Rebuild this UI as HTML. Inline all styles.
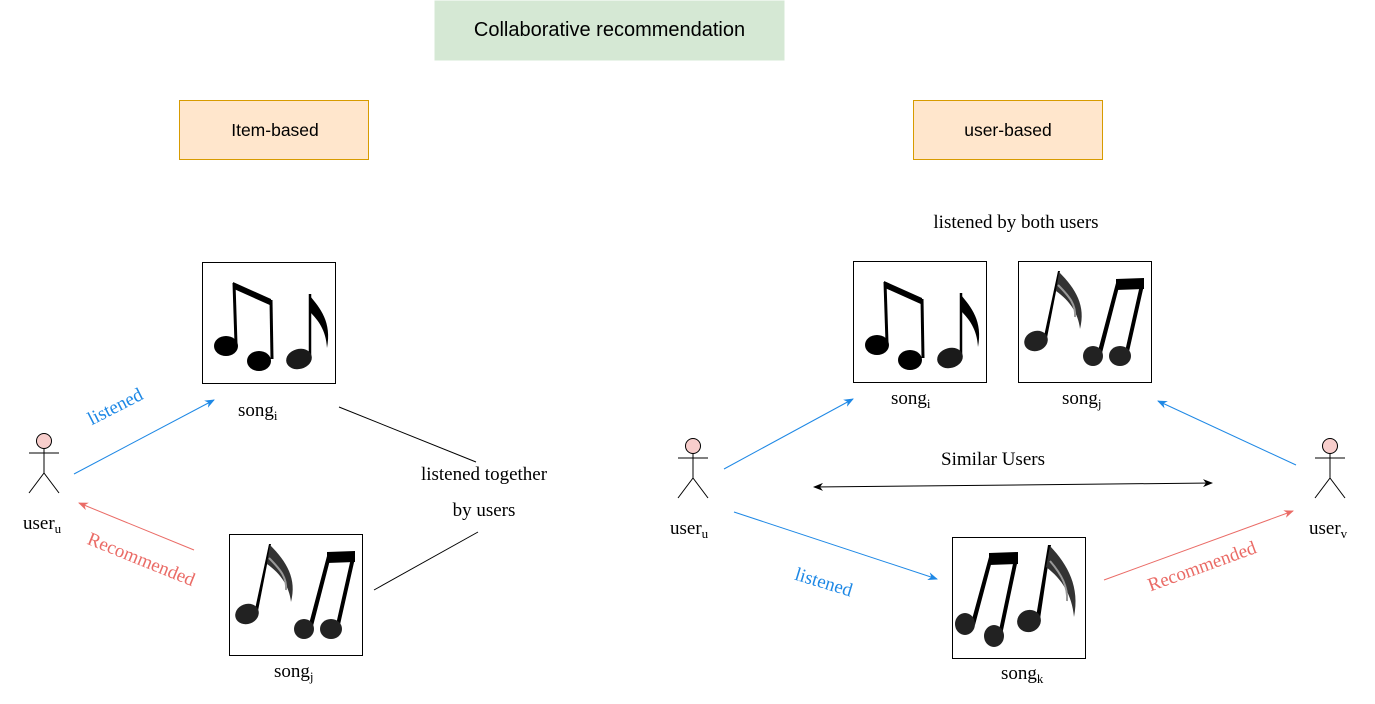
<!DOCTYPE html>
<html><head><meta charset="utf-8"><style>
html,body{margin:0;padding:0;background:#fff;}
svg{display:block;font-family:"Liberation Serif",serif;}
.sans{font-family:"Liberation Sans",sans-serif;}
</style></head><body>
<svg width="1375" height="704" viewBox="0 0 1375 704" xmlns="http://www.w3.org/2000/svg">
<defs>
<marker id="ab" markerWidth="10" markerHeight="8" refX="9" refY="4" orient="auto" markerUnits="userSpaceOnUse"><path d="M0,0 L10,4 L0,8 L3,4z" fill="#1e88e5"/></marker>
<marker id="ar" markerWidth="10" markerHeight="8" refX="9" refY="4" orient="auto" markerUnits="userSpaceOnUse"><path d="M0,0 L10,4 L0,8 L3,4z" fill="#ea6b66"/></marker>
<marker id="ak" markerWidth="10" markerHeight="8" refX="9" refY="4" orient="auto-start-reverse" markerUnits="userSpaceOnUse"><path d="M0,0 L10,4 L0,8 L3,4z" fill="#000"/></marker>
<g id="noteA">
<rect x="0.5" y="0.5" width="133" height="121" fill="#fff" stroke="#000"/>
<path d="M31,20 L69,37 L70,44 L32,27z" fill="#000"/>
<path d="M32,28 L69,45 L69,49 L32,32z" fill="#fff"/>
<line x1="32" y1="21" x2="34" y2="82" stroke="#000" stroke-width="3"/>
<line x1="69" y1="38" x2="70" y2="97" stroke="#000" stroke-width="3"/>
<ellipse cx="24" cy="84" rx="12" ry="10" fill="#000"/>
<ellipse cx="57" cy="99" rx="12" ry="10" fill="#000"/>
<line x1="108" y1="32" x2="108" y2="93" stroke="#000" stroke-width="2.5"/>
<path d="M108,34 C118,46 130,60 125,86 C124,68 116,58 108,50z" fill="#000"/>
<ellipse cx="97" cy="97" rx="13" ry="10" fill="#1a1a1a" transform="rotate(-15 97 97)"/>
</g>
<g id="noteB">
<rect x="0.5" y="0.5" width="133" height="121" fill="#fff" stroke="#000"/>
<path d="M25,80 L40,10 L42,10 L28,82z" fill="#000"/>
<path d="M41,11 C58,28 68,45 62,68 C60,52 52,40 38,30z" fill="#333"/>
<path d="M40,24 C52,36 58,44 57,56" stroke="#999" stroke-width="2" fill="none"/>
<ellipse cx="18" cy="80" rx="12" ry="10" fill="#222" transform="rotate(-20 18 80)"/>
<path d="M80,90 L98,22 L102,22 L84,92z" fill="#000"/>
<path d="M98,18 L126,17 L126,28 L98,29z" fill="#000"/>
<path d="M122,24 L126,24 L110,95 L106,95z" fill="#000"/>
<ellipse cx="75" cy="95" rx="10" ry="10" fill="#222"/>
<ellipse cx="102" cy="95" rx="11" ry="10" fill="#222"/>
</g>
<g id="noteC">
<rect x="0.5" y="0.5" width="133" height="121" fill="#fff" stroke="#000"/>
<path d="M19,86 L37,20 L41,20 L23,88z" fill="#000"/>
<path d="M37,16 L66,15 L66,27 L37,28z" fill="#000"/>
<path d="M62,22 L66,22 L50,98 L46,98z" fill="#000"/>
<ellipse cx="13" cy="87" rx="10" ry="11" fill="#222"/>
<ellipse cx="42" cy="99" rx="10" ry="11" fill="#222"/>
<path d="M84,80 L96,8 L99,8 L88,82z" fill="#000"/>
<path d="M98,9 C116,28 128,50 122,80 C120,58 110,42 94,30z" fill="#333"/>
<path d="M98,24 C110,38 116,50 115,64" stroke="#999" stroke-width="2" fill="none"/>
<ellipse cx="77" cy="84" rx="12" ry="11" fill="#222" transform="rotate(-20 77 84)"/>
</g>
<g id="stick" stroke="#000" stroke-width="1" fill="none">
<circle cx="0" cy="0" r="7.5" fill="#f8cecc"/>
<line x1="0" y1="7.5" x2="0" y2="32"/>
<line x1="-15" y1="12" x2="15" y2="12"/>
<line x1="0" y1="32" x2="-15" y2="52"/>
<line x1="0" y1="32" x2="15" y2="52"/>
</g>
</defs>

<rect x="435" y="1" width="349" height="59" fill="#d5e8d4" stroke="#d5e8d4"/>
<text x="609.5" y="36" text-anchor="middle" font-size="20" class="sans">Collaborative recommendation</text>
<rect x="179.5" y="100.5" width="189" height="59" fill="#ffe6cc" stroke="#d79b00"/>
<text x="275" y="136" text-anchor="middle" font-size="17.5" class="sans">Item-based</text>
<rect x="913.5" y="100.5" width="189" height="59" fill="#ffe6cc" stroke="#d79b00"/>
<text x="1008" y="136" text-anchor="middle" font-size="17.5" class="sans">user-based</text>

<!-- left -->
<use href="#noteA" x="202" y="262"/>
<use href="#noteB" x="229" y="534"/>
<use href="#stick" x="44" y="441"/>
<text x="23" y="529" font-size="19">user<tspan font-size="13" dy="4">u</tspan></text>
<text x="238" y="416" font-size="19">song<tspan font-size="13" dy="4">i</tspan></text>
<text x="274" y="677" font-size="19">song<tspan font-size="13" dy="4">j</tspan></text>
<line x1="74" y1="474" x2="214" y2="400" stroke="#1e88e5" marker-end="url(#ab)"/>
<text x="118" y="412" font-size="19" fill="#1e88e5" text-anchor="middle" transform="rotate(-27 118 412)">listened</text>
<line x1="194" y1="550" x2="79" y2="503" stroke="#ea6b66" marker-end="url(#ar)"/>
<text x="139" y="565" font-size="19" fill="#ea6b66" text-anchor="middle" transform="rotate(22 139 565)">Recommended</text>
<line x1="339" y1="407" x2="476" y2="462" stroke="#000"/>
<line x1="374" y1="590" x2="478" y2="532" stroke="#000"/>
<text x="484" y="480" font-size="19" text-anchor="middle">listened together</text>
<text x="484" y="516" font-size="19" text-anchor="middle">by users</text>

<!-- right -->
<text x="1016" y="228" font-size="19" text-anchor="middle">listened by both users</text>
<use href="#noteA" x="853" y="261"/>
<use href="#noteB" x="1018" y="261"/>
<use href="#noteC" x="952" y="537"/>
<text x="891" y="404" font-size="19">song<tspan font-size="13" dy="4">i</tspan></text>
<text x="1062" y="404" font-size="19">song<tspan font-size="13" dy="4">j</tspan></text>
<text x="1001" y="679" font-size="19">song<tspan font-size="13" dy="4">k</tspan></text>
<use href="#stick" x="693" y="446"/>
<use href="#stick" x="1330" y="446"/>
<text x="670" y="534" font-size="19">user<tspan font-size="13" dy="4">u</tspan></text>
<text x="1309" y="534" font-size="19">user<tspan font-size="13" dy="4">v</tspan></text>
<line x1="724" y1="469" x2="853" y2="399" stroke="#1e88e5" marker-end="url(#ab)"/>
<line x1="734" y1="512" x2="937" y2="579" stroke="#1e88e5" marker-end="url(#ab)"/>
<text x="822" y="588" font-size="19" fill="#1e88e5" text-anchor="middle" transform="rotate(17 822 588)">listened</text>
<line x1="1104" y1="580" x2="1293" y2="511" stroke="#ea6b66" marker-end="url(#ar)"/>
<text x="1204" y="572" font-size="19" fill="#ea6b66" text-anchor="middle" transform="rotate(-20 1204 572)">Recommended</text>
<line x1="1296" y1="465" x2="1158" y2="401" stroke="#1e88e5" marker-end="url(#ab)"/>
<line x1="814" y1="487" x2="1212" y2="483" stroke="#000" marker-start="url(#ak)" marker-end="url(#ak)"/>
<text x="993" y="465" font-size="19" text-anchor="middle">Similar Users</text>
</svg>
</body></html>
